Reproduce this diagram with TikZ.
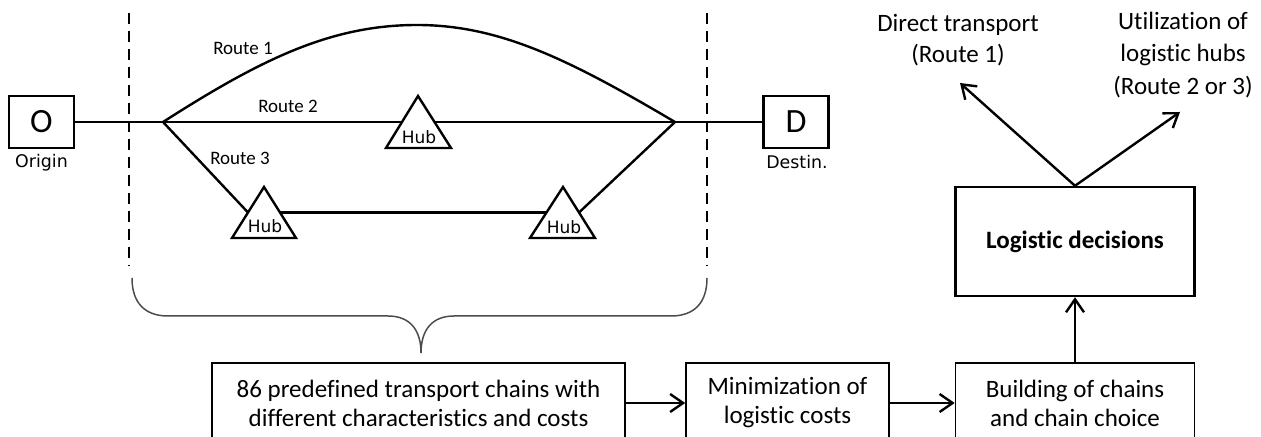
\documentclass[tikz,border=0pt]{standalone}
\usepackage{fontspec}
\setmainfont{Carlito}[Ligatures=NoCommon]
\newfontfamily\dvfont{DejaVu Sans}
\usetikzlibrary{arrows.meta,calc}
\begin{document}
\begin{tikzpicture}[x=0.5pt,y=-0.5pt,
  ln/.style={line width=1.2pt},
  dsh/.style={line width=1.3pt, dash pattern=on 5.5pt off 3.5pt},
  tri/.style={line width=1.2pt, fill=white, line join=miter},
  hubtxt/.style={font=\dvfont\fontsize{8.5}{10}\selectfont, inner sep=0pt},
  small/.style={font=\dvfont\fontsize{8.7}{10}\selectfont, inner sep=0pt},
  rlab/.style={font=\fontsize{9.5}{11}\selectfont, inner sep=0pt},
  odbox/.style={draw, line width=1.2pt, minimum width=32.5pt, minimum height=26pt, inner sep=0pt, font=\fontsize{17}{20}\selectfont},
  flow/.style={draw, line width=0.8pt, minimum height=40pt, inner sep=0pt, align=center, font=\fontsize{12.5}{14.5}\selectfont},
  arr/.style={line width=1.2pt, -{Straight Barb[length=6.5pt,width=9pt]}},
  brc/.style={line width=0.75pt, draw=black!70},
  lbl/.style={align=center, inner sep=0pt, font=\fontsize{12.5}{15.5}\selectfont}
]
\useasboundingbox (0,0) rectangle (1261,437);
\clip (0,0) rectangle (1261,437);

% dashed boundaries
\draw[dsh] (129,13) -- (129,266);
\draw[dsh] (707,13) -- (707,266);

% origin / destination
\node[odbox] (O) at (41.5,122) {O};
\node[small] (orig) at (41.5,163) {Origin};
\node[odbox] (D) at (796,122) {D};
\node[small] (dest) at (797,162) {Destin.};

\coordinate (split) at (163,122);
\coordinate (merge) at (675,122);

% hub corners
\coordinate (h2A) at (418,96);  \coordinate (h2L) at (386,148); \coordinate (h2R) at (451,148);
\coordinate (h3aA) at (264,187); \coordinate (h3aL) at (232,238); \coordinate (h3aR) at (296,238);
\coordinate (h3bA) at (563,187); \coordinate (h3bL) at (530,238); \coordinate (h3bR) at (595,238);

% connectors
\draw[ln] (O) -- (split);
\draw[ln] (merge) -- (D);
% Route 1
\draw[ln] (split) .. controls (260,60) and (330,25) .. (417,25)
                  .. controls (500,25) and (570,60) .. (merge);
% Route 2
\draw[ln] (split) -- ($(h2A)!.5!(h2L)$);
\draw[ln] ($(h2A)!.5!(h2R)$) -- (merge);
% Route 3
\draw[ln] (split) -- ($(h3aA)!.5!(h3aL)$);
\draw[ln] ($(h3aA)!.5!(h3aR)$) -- ($(h3bA)!.5!(h3bL)$);
\draw[ln] ($(h3bA)!.5!(h3bR)$) -- (merge);

% hubs
\draw[tri] (h2A) -- (h2L) -- (h2R) -- cycle;
\draw[tri] (h3aA) -- (h3aL) -- (h3aR) -- cycle;
\draw[tri] (h3bA) -- (h3bL) -- (h3bR) -- cycle;
\node[hubtxt] (hub2) at (419,137) {Hub};
\node[hubtxt] (hub3a) at (265,226) {Hub};
\node[hubtxt] (hub3b) at (564,227) {Hub};

% route labels
\node[rlab] (r1) at (243,48) {Route 1};
\node[rlab] (r2) at (288,106) {Route 2};
\node[rlab] (r3) at (240,158) {Route 3};

% brace
\draw[brc] (132,278) .. controls (132,303) and (145,316) .. (168,316) -- (388,316)
  .. controls (410,316) and (421,330) .. (421,353)
  .. controls (421,330) and (432,316) .. (454,316) -- (671,316)
  .. controls (694,316) and (707,303) .. (707,278);

% flow boxes
\node[flow, minimum width=206.5pt] (b1) at (418.5,403) {86 predefined transport chains with\\different characteristics and costs};
\node[flow, minimum width=101.5pt] (b2) at (787.5,403) {Minimization of\\logistic costs};
\node[flow, minimum width=119.5pt] (b3) at (1075,403) {Building of chains\\and chain choice};
\node[draw, line width=1.2pt, minimum width=119.5pt, minimum height=54.5pt, inner sep=0pt,
      font=\bfseries\fontsize{12.5}{15}\selectfont] (dec) at (1075,241.5) {Logistic decisions};

\draw[arr] (b1) -- (b2);
\draw[arr] (b2) -- (b3);
\draw[arr] (b3) -- (dec);

\coordinate (t1) at (960,83);
\coordinate (t2) at (1180,112);
\draw[arr] (dec.north) -- (t1);
\draw[arr] (dec.north) -- (t2);

\node[lbl] (direct) at (958,40) {Direct transport\\(Route 1)};
\node[lbl, font=\fontsize{12.5}{16.2}\selectfont] (util) at (1183,55) {Utilization of\\logistic hubs\\(Route 2 or 3)};
\end{tikzpicture}
\end{document}
